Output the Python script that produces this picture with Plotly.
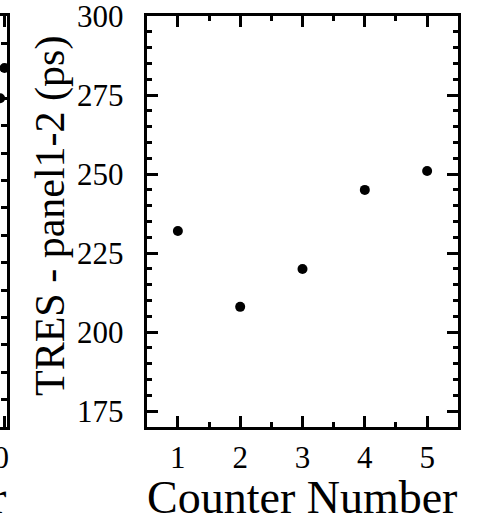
import plotly.graph_objects as go

# Timing resolution per counter (panel 1-2)
counters = [1, 2, 3, 4, 5]
tres_ps = [232, 208, 220, 245, 251]

# Neighbouring panel (only its right edge falls inside the figure)
prev_x = [10.0, 9.78]
prev_y = [131, 120]

W, H = 487, 521
ML, MR, MT, MB = 0, 28, 16, 94
PW = W - ML - MR          # plot-area width in px
PH = H - MT - MB

def px_x(p):
    return (p - ML) / PW

def px_y(p):
    return 1 - (p - MT) / PH

FONT = "Liberation Serif, Times New Roman, serif"
BLACK = "#000000"

fig = go.Figure()

fig.add_trace(go.Scatter(
    x=counters, y=tres_ps, mode="markers",
    marker=dict(color=BLACK, size=10),
    xaxis="x", yaxis="y", showlegend=False, cliponaxis=False,
))

fig.add_trace(go.Scatter(
    x=prev_x, y=prev_y, mode="markers",
    marker=dict(color=BLACK, size=10),
    xaxis="x2", yaxis="y2", showlegend=False, cliponaxis=False,
))

axis_common = dict(
    showline=True, linecolor=BLACK, linewidth=3,
    ticks="inside", tickcolor=BLACK, tickwidth=3,
    showgrid=False, zeroline=False, automargin=False,
    tickfont=dict(family=FONT, size=31, color=BLACK),
    ticklabeloverflow="allow",
)

fig.update_layout(
    width=W, height=H,
    margin=dict(l=ML, r=MR, t=MT, b=MB, autoexpand=False),
    paper_bgcolor="white", plot_bgcolor="white",
    xaxis=dict(
        **axis_common,
        domain=[px_x(146.7), px_x(458.3)],
        range=[0.5, 5.5], tickvals=counters, ticklen=11,
        mirror="ticks", anchor="y",
        ticklabelstandoff=1,
        minor=dict(dtick=0.5, tick0=0.5, ticks="inside", ticklen=5,
                   tickwidth=3, tickcolor=BLACK),
    ),
    yaxis=dict(
        **axis_common,
        domain=[0, 1],
        range=[170, 300], tick0=0, dtick=25, ticklen=11,
        mirror="ticks", anchor="x",
        ticklabelstandoff=14,
        minor=dict(dtick=5, tick0=0, ticks="inside", ticklen=5,
                   tickwidth=3, tickcolor=BLACK),
    ),
    xaxis2=dict(
        **axis_common,
        domain=[0, px_x(6.7)],
        range=[9.775, 10.11], tickvals=[10], ticklen=11,
        mirror="ticks", anchor="y2",
        ticklabelstandoff=1, ticklabelshift=-11,
    ),
    yaxis2=dict(
        **axis_common,
        domain=[0, 1], side="right", anchor="x2",
        range=[0, 150], dtick=10, ticklen=6,
        showticklabels=False,
    ),
    annotations=[
        dict(text="Counter Number", xref="paper", yref="paper",
             x=px_x(302), y=px_y(497), xanchor="center", yanchor="middle",
             showarrow=False, font=dict(family=FONT, size=46, color=BLACK)),
        dict(text="Counter Number", xref="paper", yref="paper",
             x=px_x(8), y=px_y(497), xanchor="right", yanchor="middle",
             showarrow=False, font=dict(family=FONT, size=46, color=BLACK)),
        dict(text="TRES - panel1-2 (ps)", xref="paper", yref="paper",
             x=px_x(50), y=px_y(216), xanchor="center", yanchor="middle",
             textangle=-90, showarrow=False,
             font=dict(family=FONT, size=42, color=BLACK)),
    ],
)

fig.write_html("out.html")
